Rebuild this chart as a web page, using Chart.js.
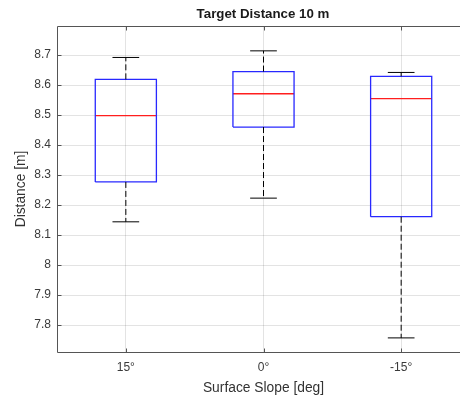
<!DOCTYPE html>
<html>
<head>
<meta charset="utf-8">
<script src="https://cdn.jsdelivr.net/npm/chart.js@4/dist/chart.umd.min.js"></script>
<style>
  html, body { margin: 0; padding: 0; background: #fff; overflow: hidden; }
  #wrap { width: 460px; height: 397px; overflow: hidden; }
</style>
</head>
<body>
<div id="wrap"><canvas id="box" width="526" height="397"></canvas></div>
<script>
// box plot per surface slope
const slopes = ['15°', '0°', '-15°'];
const whiskerLow = [8.144, 8.223, 7.757];
const q1 = [8.277, 8.460, 8.161];
const median = [8.498, 8.571, 8.555];
const q3 = [8.619, 8.645, 8.629];
const whiskerHigh = [8.692, 8.714, 8.642];
const yTicks = [7.8, 7.9, 8.0, 8.1, 8.2, 8.3, 8.4, 8.5, 8.6, 8.7];

const halfBox = 0.222;
const halfCap = 0.097;
const fontFamily = '"Liberation Sans", Arial, Helvetica, sans-serif';

function seg(points, color, dash, width) {
  return {
    data: points,
    showLine: true,
    borderColor: color,
    borderWidth: width || 1.2,
    borderDash: dash || [],
    pointRadius: 0,
    fill: false,
    tension: 0
  };
}

const datasets = [];
slopes.forEach(function (s, i) {
  const x = i + 1;
  // whiskers (dashed) and caps
  datasets.push(seg([{x: x, y: q3[i]}, {x: x, y: whiskerHigh[i]}], '#000', [6, 3], 1));
  datasets.push(seg([{x: x, y: q1[i]}, {x: x, y: whiskerLow[i]}], '#000', [6, 3], 1));
  datasets.push(seg([{x: x - halfCap, y: whiskerHigh[i]}, {x: x + halfCap, y: whiskerHigh[i]}], '#000', [], 1));
  datasets.push(seg([{x: x - halfCap, y: whiskerLow[i]}, {x: x + halfCap, y: whiskerLow[i]}], '#000', [], 1));
  // box
  datasets.push(seg([
    {x: x - halfBox, y: q1[i]}, {x: x + halfBox, y: q1[i]},
    {x: x + halfBox, y: q3[i]}, {x: x - halfBox, y: q3[i]},
    {x: x - halfBox, y: q1[i]}
  ], 'rgb(40,40,255)', [], 1.3));
  // median
  datasets.push(seg([{x: x - halfBox, y: median[i]}, {x: x + halfBox, y: median[i]}], 'rgb(255,30,30)', [], 1.3));
});

// axes frame with inward ticks
const framePlugin = {
  id: 'frame',
  afterDraw(chart) {
    const ctx = chart.ctx;
    const a = chart.chartArea;
    const xs = chart.scales.x, ys = chart.scales.y;
    const l = Math.round(a.left) + 0.5, r = Math.round(a.right) + 0.5;
    const t = Math.round(a.top) + 0.5, b = Math.round(a.bottom) + 0.5;
    ctx.save();
    ctx.strokeStyle = '#555';
    ctx.lineWidth = 1;
    ctx.beginPath();
    ctx.moveTo(l, t); ctx.lineTo(r, t);
    ctx.moveTo(l, b); ctx.lineTo(r, b);
    ctx.moveTo(l, t); ctx.lineTo(l, b);
    ctx.moveTo(r, t); ctx.lineTo(r, b);
    [1, 2, 3].forEach(function (v) {
      const px = Math.round(xs.getPixelForValue(v)) + 0.5;
      ctx.moveTo(px, b); ctx.lineTo(px, b - 4);
      ctx.moveTo(px, t); ctx.lineTo(px, t + 4);
    });
    yTicks.forEach(function (v) {
      const py = Math.round(ys.getPixelForValue(v)) + 0.5;
      ctx.moveTo(l, py); ctx.lineTo(l + 4, py);
      ctx.moveTo(r, py); ctx.lineTo(r - 4, py);
    });
    ctx.stroke();
    ctx.restore();
  }
};

new Chart(document.getElementById('box'), {
  type: 'scatter',
  data: { datasets: datasets },
  plugins: [framePlugin],
  options: {
    responsive: false,
    animation: false,
    devicePixelRatio: 1,
    layout: { padding: 0 },
    plugins: {
      legend: { display: false },
      tooltip: { enabled: false },
      title: {
        display: true,
        text: 'Target Distance 10 m',
        color: '#1a1a1a',
        font: { family: fontFamily, size: 13.3, weight: 'bold' },
        padding: { top: 6, bottom: 4 }
      }
    },
    scales: {
      x: {
        type: 'linear',
        min: 0.5,
        max: 3.5,
        afterBuildTicks(scale) {
          scale.ticks = [1, 2, 3].map(function (v) { return { value: v }; });
        },
        afterFit(scale) { scale.height = 45; },
        ticks: {
          color: '#3a3a3a',
          font: { family: fontFamily, size: 12 },
          padding: 8,
          maxRotation: 0,
          callback: function (v) { return slopes[v - 1]; }
        },
        grid: { color: 'rgba(38,38,38,0.13)', drawTicks: false },
        border: { display: false },
        title: {
          display: true,
          text: 'Surface Slope [deg]',
          color: '#333',
          font: { family: fontFamily, size: 13.8 },
          padding: { top: 0, bottom: 1 }
        }
      },
      y: {
        type: 'linear',
        min: 7.71,
        max: 8.797,
        afterBuildTicks(scale) {
          scale.ticks = yTicks.map(function (v) { return { value: v }; });
        },
        afterFit(scale) { scale.width = 57; },
        ticks: {
          color: '#3a3a3a',
          font: { family: fontFamily, size: 12 },
          padding: 6,
          callback: function (v) { return String(Math.round(v * 10) / 10); }
        },
        grid: { color: 'rgba(38,38,38,0.13)', drawTicks: false },
        border: { display: false },
        title: {
          display: true,
          text: 'Distance [m]',
          color: '#333',
          font: { family: fontFamily, size: 13.8 },
          padding: { top: 13, bottom: 0 }
        }
      },
      // empty strip on the right, mirrors the y axis margin
      yRight: {
        type: 'linear',
        position: 'right',
        min: 0,
        max: 1,
        afterFit(scale) { scale.width = 56; },
        ticks: { display: false },
        grid: { display: false, drawTicks: false },
        border: { display: false }
      }
    }
  }
});
</script>
</body>
</html>
